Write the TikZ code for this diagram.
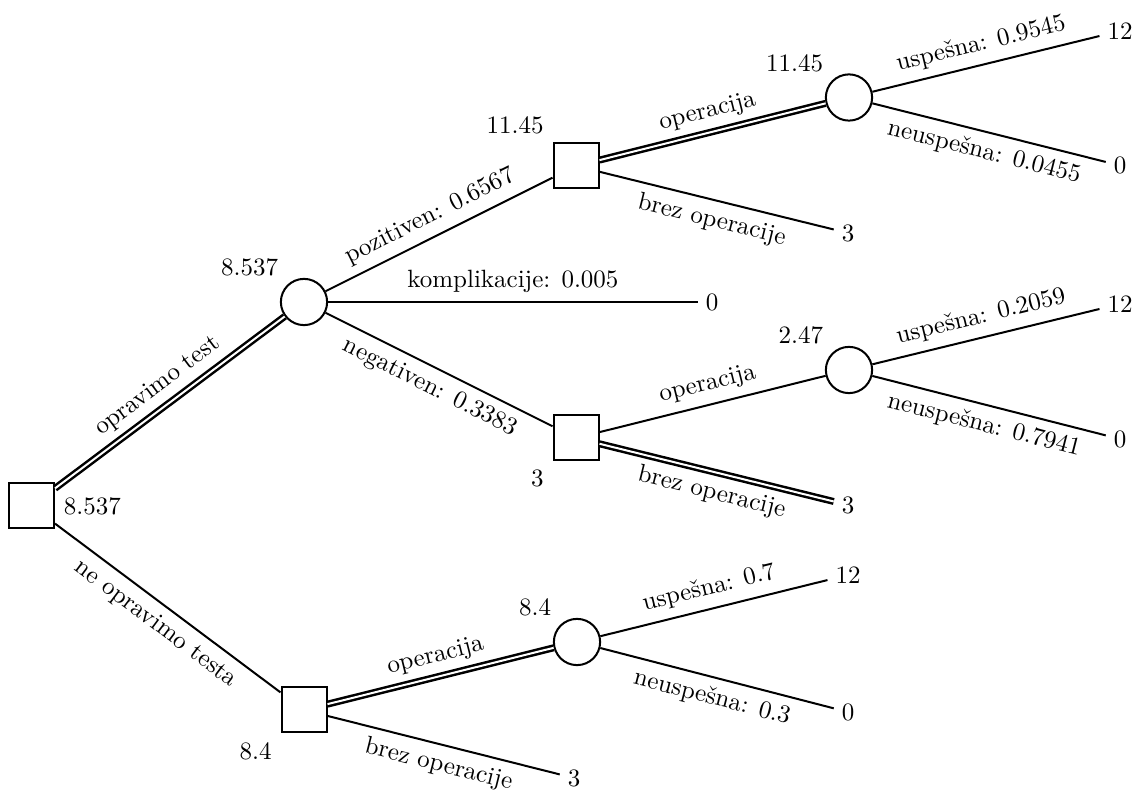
\documentclass[tikz,border=0pt]{standalone}
\usepackage{fontspec}
\begin{document}
\begin{tikzpicture}[x=0.4pt,y=-0.4pt,
  dec/.style={draw, rectangle, minimum size=18pt, inner sep=0pt, line width=0.8pt},
  chc/.style={draw, circle, minimum size=18.5pt, inner sep=0pt, line width=0.8pt},
  term/.style={inner sep=3pt},
  branch/.style={line width=0.8pt},
  best/.style={line width=1pt, double, double distance=0.8pt},
  lab/.style={sloped, midway}]
\useasboundingbox (0,0) rectangle (1136,792);
% decision and chance nodes
\node[dec, label={right:8.537}] (r) at (31.5,506) {};
\node[chc, label={above left:8.537}] (c1) at (304,302) {};
\node[dec, label={above left:11.45}] (d1) at (576,166) {};
\node[chc, label={above left:11.45}] (c2) at (849,97.5) {};
\node[dec, label={below left:3}] (d2) at (576,438) {};
\node[chc, label={above left:2.47}] (c3) at (849,370) {};
\node[dec, label={below left:8.4}] (d3) at (304,710) {};
\node[chc, label={above left:8.4}] (c4) at (577,642) {};
% terminal nodes
\node[term] (t1) at (1120,31) {12};
\node[term] (t2) at (1120,165.5) {0};
\node[term] (t3) at (848,233) {3};
\node[term] (t4) at (712,302) {0};
\node[term] (t5) at (1120,304) {12};
\node[term] (t6) at (1120,439) {0};
\node[term] (t7) at (848,505) {3};
\node[term] (t8) at (848,575) {12};
\node[term] (t9) at (848,712) {0};
\node[term] (t10) at (574,778) {3};
% branches
\draw[best] (r) -- node[lab, above] {opravimo test} (c1);
\draw[branch] (r) -- node[lab, below] {ne opravimo testa} (d3);
\draw[branch] (c1) -- node[lab, above] {pozitiven: 0.6567} (d1);
\draw[branch] (c1) -- node[lab, above] {komplikacije: 0.005} (t4);
\draw[branch] (c1) -- node[lab, below] {negativen: 0.3383} (d2);
\draw[best] (d1) -- node[lab, above] {operacija} (c2);
\draw[branch] (d1) -- node[lab, below] {brez operacije} (t3);
\draw[branch] (c2) -- node[lab, above] {uspešna: 0.9545} (t1);
\draw[branch] (c2) -- node[lab, below] {neuspešna: 0.0455} (t2);
\draw[branch] (d2) -- node[lab, above] {operacija} (c3);
\draw[best] (d2) -- node[lab, below] {brez operacije} (t7);
\draw[branch] (c3) -- node[lab, above] {uspešna: 0.2059} (t5);
\draw[branch] (c3) -- node[lab, below] {neuspešna: 0.7941} (t6);
\draw[best] (d3) -- node[lab, above] {operacija} (c4);
\draw[branch] (d3) -- node[lab, below] {brez operacije} (t10);
\draw[branch] (c4) -- node[lab, above] {uspešna: 0.7} (t8);
\draw[branch] (c4) -- node[lab, below] {neuspešna: 0.3} (t9);
\end{tikzpicture}
\end{document}
